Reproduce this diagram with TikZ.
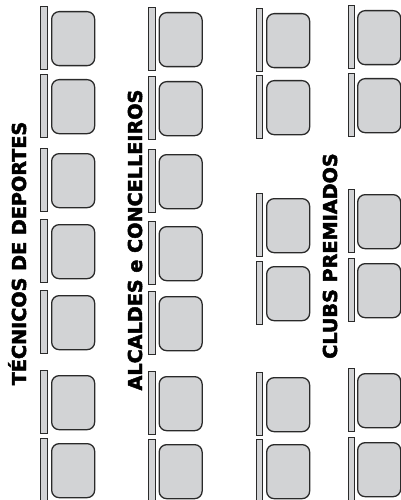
\documentclass[tikz,border=0pt]{standalone}
\usepackage{fontspec}
\newfontfamily\lblfont{DejaVu Sans}[BoldFeatures={FakeBold=2.5}]
\definecolor{seatfill}{HTML}{D2D3D5}
\definecolor{seatline}{HTML}{2A2A2A}
\tikzset{
  seatbox/.style={draw=seatline, fill=seatfill, line width=1.3pt, rounded corners=7.5pt,
    minimum width=43pt, minimum height=54pt, inner sep=0pt, anchor=north west},
  seatbar/.style={draw=seatline, fill=seatfill, line width=1.1pt,
    minimum width=6.5pt, minimum height=63pt, inner sep=0pt, anchor=north west},
  grouplabel/.style={font=\lblfont\bfseries\fontsize{19.2}{20}\selectfont, text=black,
    anchor=base, rotate=90, inner sep=0pt}
}
\begin{document}
\begin{tikzpicture}[x=1pt,y=-1pt]
\useasboundingbox (0,0) rectangle (401,500);
% column 1
\foreach \t [count=\i] in {11,79,153,224,295,375,443} {
  \node[seatbar] (ab\i) at (40,\t-5) {};
  \node[seatbox] (a\i) at (51,\t) {};
}
% column 2
\foreach \t [count=\i] in {12,81,154,226,296,376,444} {
  \node[seatbar] (bb\i) at (148,\t-5) {};
  \node[seatbox] (b\i) at (158.5,\t) {};
}
% column 3
\foreach \t [count=\i] in {13,80,198,266,377,444} {
  \node[seatbar] (cb\i) at (255.5,\t-5) {};
  \node[seatbox] (c\i) at (266,\t) {};
}
% column 4
\foreach \t [count=\i] in {10,78,194,263,373,442} {
  \node[seatbar] (db\i) at (347.5,\t-5) {};
  \node[seatbox] (d\i) at (357,\t) {};
}
\node[grouplabel] (l1) at (26,253.5) {TÉCNICOS DE DEPORTES};
\node[grouplabel] (l2) at (142,240) {ALCALDES e CONCELLEIROS};
\node[grouplabel] (l3) at (337,256) {CLUBS PREMIADOS};
\end{tikzpicture}
\end{document}
